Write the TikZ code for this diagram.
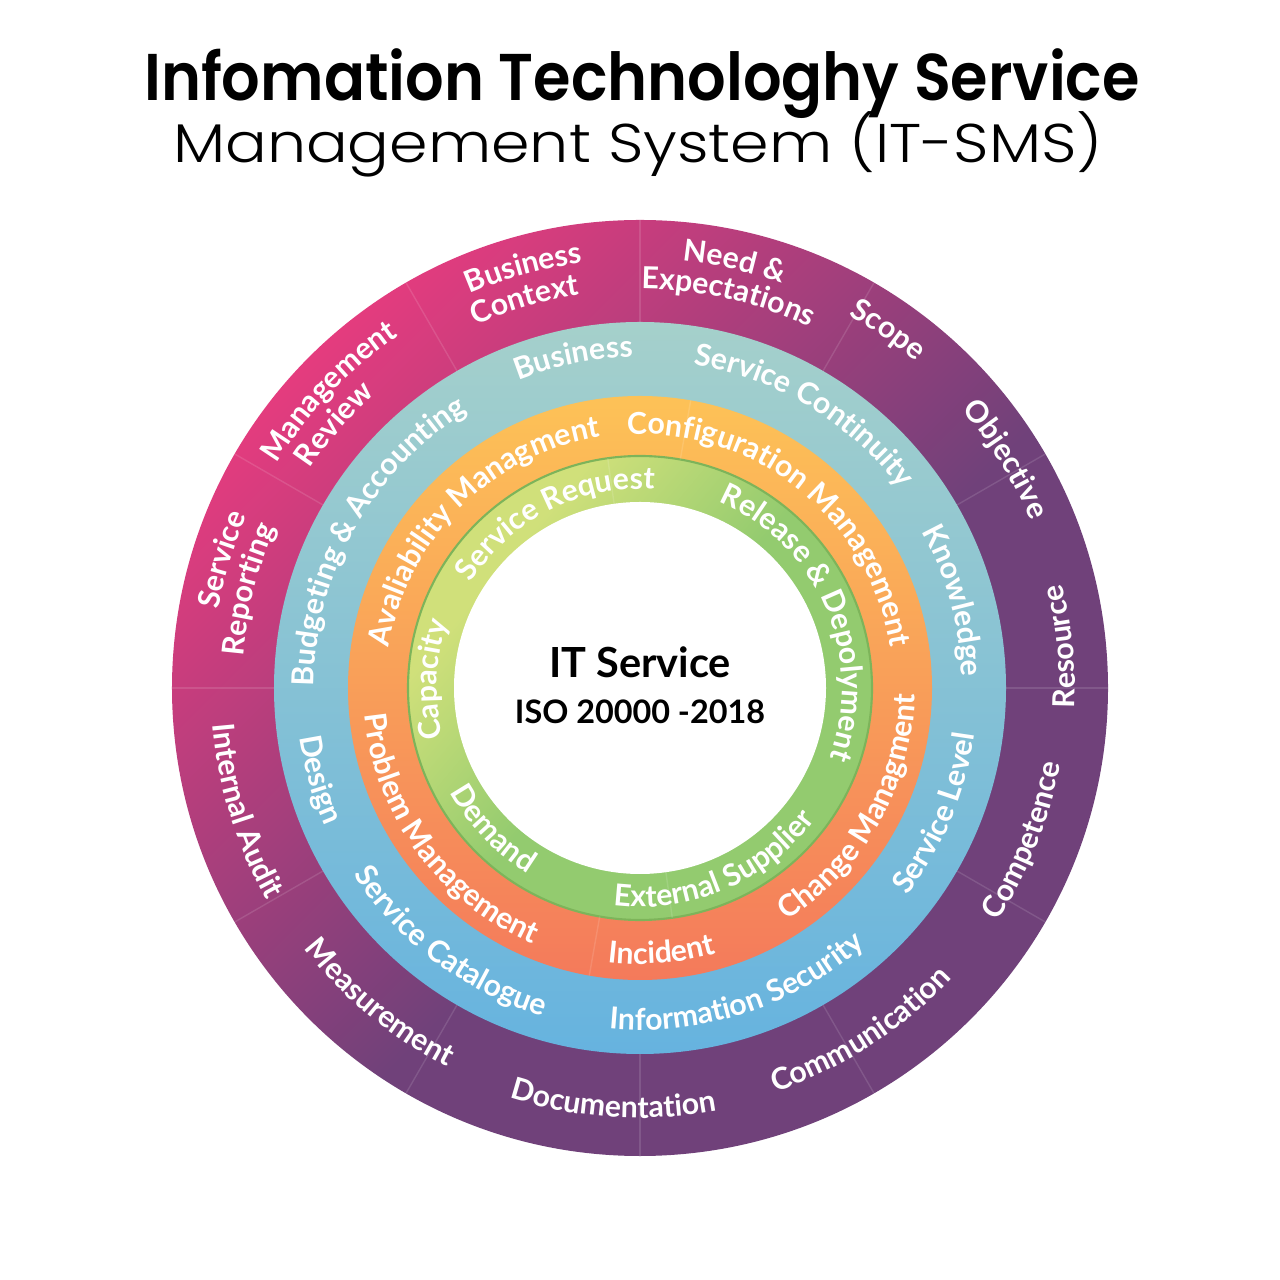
\documentclass[tikz,border=0pt]{standalone}
\usepackage{fontspec}
\usepackage{graphicx}
\usetikzlibrary{decorations.text}
\newfontfamily\ringfam{Lato}
\newfontfamily\titlebold{Poppins}[UprightFont=* SemiBold]
\newfontfamily\titlelight{Poppins}[UprightFont=* Light]
\definecolor{ringpink}{HTML}{E43C7E}
\definecolor{ringpurple}{HTML}{70417A}
\definecolor{bluetop}{HTML}{A5D0CB}
\definecolor{bluebottom}{HTML}{66B3DF}
\definecolor{orangetop}{HTML}{FDC257}
\definecolor{orangebottom}{HTML}{F47A5B}
\definecolor{greenlight}{HTML}{D0E07A}
\definecolor{greendark}{HTML}{93CB6F}
\definecolor{greenedge}{HTML}{7DB45A}
\pgfdeclareverticalshading{outerglow}{100bp}{color(0bp)=(ringpurple); color(45bp)=(ringpurple); color(75bp)=(ringpink); color(100bp)=(ringpink)}
\pgfdeclareverticalshading{greenglow}{100bp}{color(0bp)=(greendark); color(50bp)=(greendark); color(70bp)=(greenlight); color(100bp)=(greenlight)}
\newcommand{\ringfont}{\ringfam\bfseries\fontsize{8.6}{10}\selectfont}
\tikzset{divider/.style={draw=white, opacity=0.12, line width=0.4pt}}
\tikzset{centertext/.style={anchor=base, inner sep=0pt, font=\ringfam\bfseries}}
% curved labels: radius, middle angle, text
\newcommand{\cwlabel}[3]{%
  \pgfmathsetmacro\startang{#2+80}\pgfmathsetmacro\endang{#2-80}%
  \path[decorate, decoration={text along path, text align=center, text color=white, text={|\ringfont|#3}}]
    (\startang:#1) arc[start angle=\startang, end angle=\endang, radius=#1];}
\newcommand{\ccwlabel}[3]{%
  \pgfmathsetmacro\startang{#2-80}\pgfmathsetmacro\endang{#2+80}%
  \path[decorate, decoration={text along path, text align=center, text color=white, text={|\ringfont|#3}}]
    (\startang:#1) arc[start angle=\startang, end angle=\endang, radius=#1];}

\begin{document}
\begin{tikzpicture}[x=0.01cm, y=0.01cm]
	\useasboundingbox (-640,-592) rectangle (640,688);
	\fill[white] (-640,-592) rectangle (640,688);
	% title
	\node[anchor=base, inner sep=0pt] (title) at (2,587) {\resizebox{9.95cm}{\height}{\titlebold\fontsize{18.8}{22}\selectfont Infomation Technologhy Service}};
	\node[anchor=base, inner sep=0pt] (subtitle) at (-2,525) {\resizebox{9.29cm}{\height}{\titlelight\fontsize{15.5}{18}\selectfont Management System (IT-SMS)}};
	% rings
	\shade[shading=outerglow, shading angle=45] (0,0) circle (468);
	\shade[top color=bluetop, bottom color=bluebottom] (0,0) circle (366);
	\shade[top color=orangetop, bottom color=orangebottom] (0,0) circle (292);
	\shade[shading=greenglow, shading angle=50] (0,0) circle (232);
	\draw[greenedge, line width=0.6pt] (0,0) circle (232);
	\fill[white] (0,0) circle (186);
	\foreach \a in {0,30,...,330} \draw[divider] (\a:366) -- (\a:468);
	\foreach \a in {80,260} \draw[divider] (\a:232) -- (\a:292);
	\foreach \a in {98,278} \draw[divider] (\a:186) -- (\a:232);
	% outer ring
	\cwlabel{429}{105.5}{Business}
	\cwlabel{398}{106.5}{Context}
	\cwlabel{429}{77.5}{Need {\&}}
	\cwlabel{399}{77.3}{Expectations}
	\cwlabel{427}{55.3}{Scope}
	\cwlabel{425}{32}{Objective}
	\ccwlabel{435}{5.6}{Resource}
	\ccwlabel{427}{-21.7}{Competence}
	\ccwlabel{426}{-57.2}{Communication}
	\ccwlabel{430}{-93.7}{Documentation}
	\ccwlabel{425}{-129.6}{Measurement}
	\ccwlabel{429}{-162.7}{Internal Audit}
	\cwlabel{429}{162.9}{Service}
	\cwlabel{398}{165.9}{Reporting}
	\cwlabel{427}{136.4}{Management}
	\cwlabel{396}{139.2}{Review}
	% blue ring
	\cwlabel{331}{101.4}{Business}
	\cwlabel{328}{59}{Service Continuity}
	\cwlabel{322}{15.5}{Knowledge}
	\ccwlabel{338}{-22.8}{Service Level}
	\ccwlabel{342}{-72}{Information Security}
	\ccwlabel{342}{-126.7}{Service Catalogue}
	\ccwlabel{344}{-164}{Design}
	\cwlabel{326}{150.8}{Budgeting {\&} Accounting}
	% orange ring
	\cwlabel{254}{134.9}{Avaliability Managment}
	\cwlabel{254}{51}{Configuration Management}
	\ccwlabel{275}{-29.5}{Change Managment}
	\ccwlabel{276}{-85.4}{Incident}
	\ccwlabel{277}{-143.6}{Problem Management}
	% green ring
	\cwlabel{199}{117}{Service Request}
	\cwlabel{202}{23.4}{Release {\&} Depolyment}
	\cwlabel{203}{177.6}{Capacity}
	\ccwlabel{219}{-67}{External Supplier}
	\ccwlabel{217}{-136.3}{Demand}
	% centre
	\node[centertext, font=\ringfam\bfseries\fontsize{11.8}{14}\selectfont] (itservice) at (0,10.3) {IT Service};
	\node[centertext, font=\ringfam\bfseries\fontsize{9.2}{11}\selectfont] (isonorm) at (0,-35.3) {ISO 20000 -2018};
\end{tikzpicture}
\end{document}
